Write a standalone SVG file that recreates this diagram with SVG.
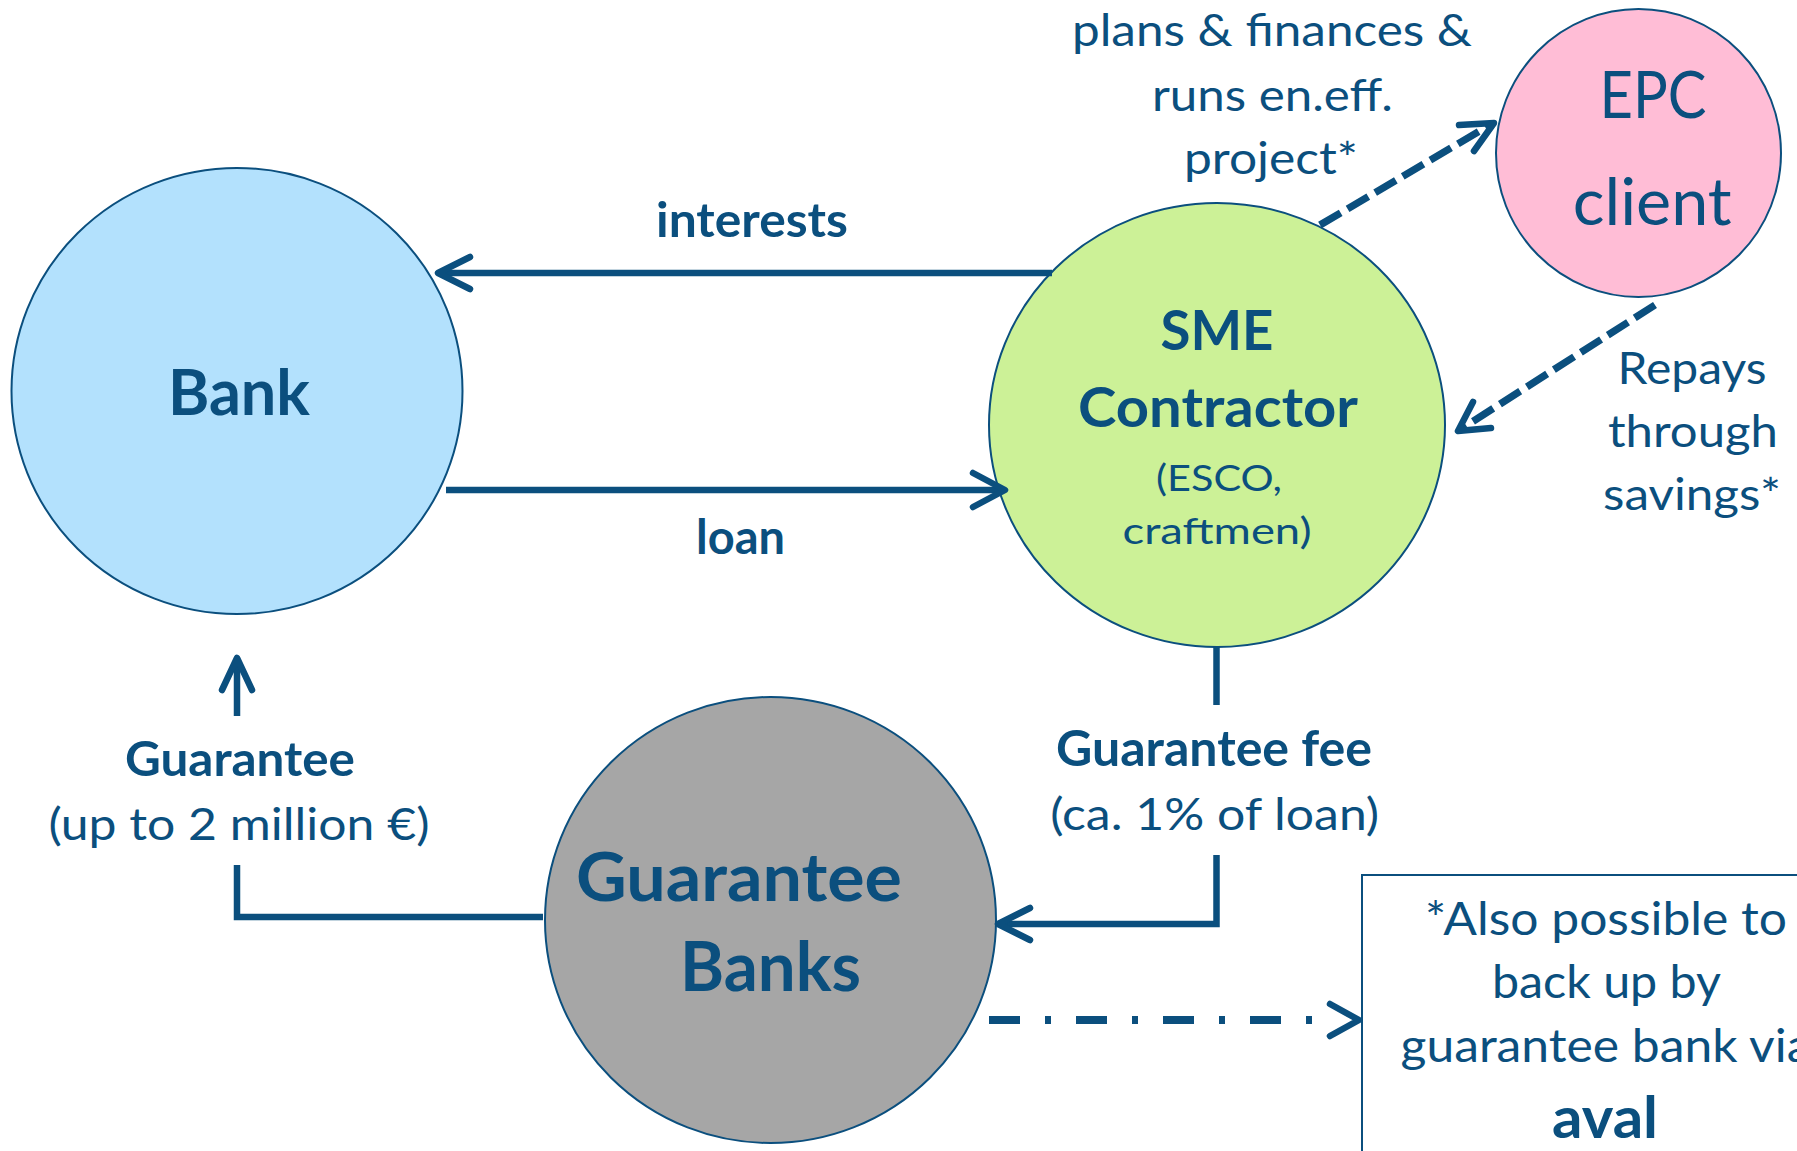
<svg xmlns="http://www.w3.org/2000/svg" width="1797" height="1151" viewBox="0 0 1797 1151">
<style>
  .node { stroke:#0b4f7e; stroke-width:2; }
  .t { font-family: Lato, "Liberation Sans", sans-serif; fill:#0b4f7e; text-anchor:middle; }
  .b { font-weight:700; }
  .ln { fill:none; stroke:#0b4f7e; stroke-width:6.5; }
  .hd { fill:none; stroke:#0b4f7e; stroke-width:6.5; stroke-linecap:round; stroke-linejoin:round; }
  .dash { fill:none; stroke:#0b4f7e; stroke-width:7.3; stroke-dasharray:24 8; }
  .dashdot { fill:none; stroke:#0b4f7e; stroke-width:8; stroke-dasharray:31 25 6 25; }
</style>
<rect width="1797" height="1151" fill="#ffffff"/>

<g id="bank">
  <ellipse class="node" cx="237" cy="391" rx="225.5" ry="223" fill="#b3e1fd"/>
  <text class="t b" x="239" y="415" font-size="64" textLength="142" lengthAdjust="spacingAndGlyphs">Bank</text>
</g>

<g id="sme">
  <ellipse class="node" cx="1217" cy="425" rx="228" ry="222" fill="#ccf197"/>
  <text class="t b" x="1217" y="350" font-size="55" textLength="113" lengthAdjust="spacingAndGlyphs">SME</text>
  <text class="t b" x="1218" y="427" font-size="55" textLength="280" lengthAdjust="spacingAndGlyphs">Contractor</text>
  <text class="t" x="1219" y="491" font-size="37" textLength="126" lengthAdjust="spacingAndGlyphs">(ESCO,</text>
  <text class="t" x="1217" y="544" font-size="37" textLength="189" lengthAdjust="spacingAndGlyphs">craftmen)</text>
</g>

<g id="epc">
  <ellipse class="node" cx="1638.5" cy="153" rx="142.5" ry="144" fill="#ffbdd6"/>
  <text class="t" x="1653" y="118.3" font-size="66" textLength="107" lengthAdjust="spacingAndGlyphs">EPC</text>
  <text class="t" x="1652.2" y="225" font-size="66" textLength="159" lengthAdjust="spacingAndGlyphs">client</text>
</g>

<g id="guarantee-banks">
  <ellipse class="node" cx="770.5" cy="920" rx="225.5" ry="223" fill="#a6a6a6"/>
  <text class="t b" x="739" y="901" font-size="66" textLength="326" lengthAdjust="spacingAndGlyphs">Guarantee</text>
  <text class="t b" x="770.6" y="990.8" font-size="68" textLength="181" lengthAdjust="spacingAndGlyphs">Banks</text>
</g>

<g id="note">
  <rect x="1362" y="875" width="460" height="300" fill="#ffffff" stroke="#0b4f7e" stroke-width="2"/>
  <text class="t" x="1606" y="935" font-size="46" textLength="362" lengthAdjust="spacingAndGlyphs">*Also possible to</text>
  <text class="t" x="1606.5" y="997.6" font-size="46" textLength="229" lengthAdjust="spacingAndGlyphs">back up by</text>
  <text class="t" x="1606" y="1062" font-size="46" textLength="411" lengthAdjust="spacingAndGlyphs">guarantee bank via</text>
  <text class="t b" x="1605" y="1138" font-size="57" textLength="106" lengthAdjust="spacingAndGlyphs">aval</text>
</g>

<g id="connectors">
  <!-- interests -->
  <line class="ln" x1="1052" y1="273" x2="440" y2="273"/>
  <polyline class="hd" points="470,257 438,273 470,289"/>
  <!-- loan -->
  <line class="ln" x1="446" y1="490" x2="1003" y2="490"/>
  <polyline class="hd" points="973,473 1005,490 973,507"/>
  <!-- SME -> EPC -->
  <line class="dash" x1="1320" y1="225" x2="1490" y2="125"/>
  <polyline class="hd" points="1459,125 1494,123 1474,151"/>
  <!-- EPC -> SME -->
  <line class="dash" x1="1655" y1="305" x2="1461" y2="429"/>
  <polyline class="hd" points="1473,402 1458,431 1491,428"/>
  <!-- Guarantee up -->
  <line class="ln" x1="237" y1="716" x2="237" y2="662"/>
  <polyline class="hd" points="222,690 237,658 252,690"/>
  <path class="ln" d="M237,865 V917 H543"/>
  <!-- Guarantee fee -->
  <line class="ln" x1="1216.5" y1="647" x2="1216.5" y2="705"/>
  <path class="ln" d="M1216.5,855 V924 H1000"/>
  <polyline class="hd" points="1030,908 998,924 1030,940"/>
  <!-- dash-dot to note -->
  <line class="dashdot" x1="989" y1="1020" x2="1320" y2="1020"/>
  <polyline class="hd" points="1330,1004 1359,1020 1330,1036"/>
</g>

<g id="labels">
  <text class="t b" x="752" y="237" font-size="47" textLength="192" lengthAdjust="spacingAndGlyphs">interests</text>
  <text class="t b" x="740.5" y="554" font-size="47" textLength="89" lengthAdjust="spacingAndGlyphs">loan</text>
  <text class="t" x="1272" y="45.7" font-size="45" textLength="400" lengthAdjust="spacingAndGlyphs">plans &amp; finances &amp;</text>
  <text class="t" x="1272.4" y="111" font-size="45" textLength="241" lengthAdjust="spacingAndGlyphs">runs en.eff.</text>
  <text class="t" x="1271" y="173.5" font-size="45" textLength="174" lengthAdjust="spacingAndGlyphs">project*</text>
  <text class="t" x="1692" y="383.7" font-size="45" textLength="149" lengthAdjust="spacingAndGlyphs">Repays</text>
  <text class="t" x="1693" y="447" font-size="45" textLength="170" lengthAdjust="spacingAndGlyphs">through</text>
  <text class="t" x="1692" y="510" font-size="45" textLength="178" lengthAdjust="spacingAndGlyphs">savings*</text>
  <text class="t b" x="240" y="776.4" font-size="48" textLength="230" lengthAdjust="spacingAndGlyphs">Guarantee</text>
  <text class="t" x="239" y="840" font-size="45" textLength="381" lengthAdjust="spacingAndGlyphs">(up to 2 million €)</text>
  <text class="t b" x="1214" y="766.3" font-size="49" textLength="316" lengthAdjust="spacingAndGlyphs">Guarantee fee</text>
  <text class="t" x="1214.7" y="830" font-size="45" textLength="329" lengthAdjust="spacingAndGlyphs">(ca. 1% of loan)</text>
</g>
</svg>
